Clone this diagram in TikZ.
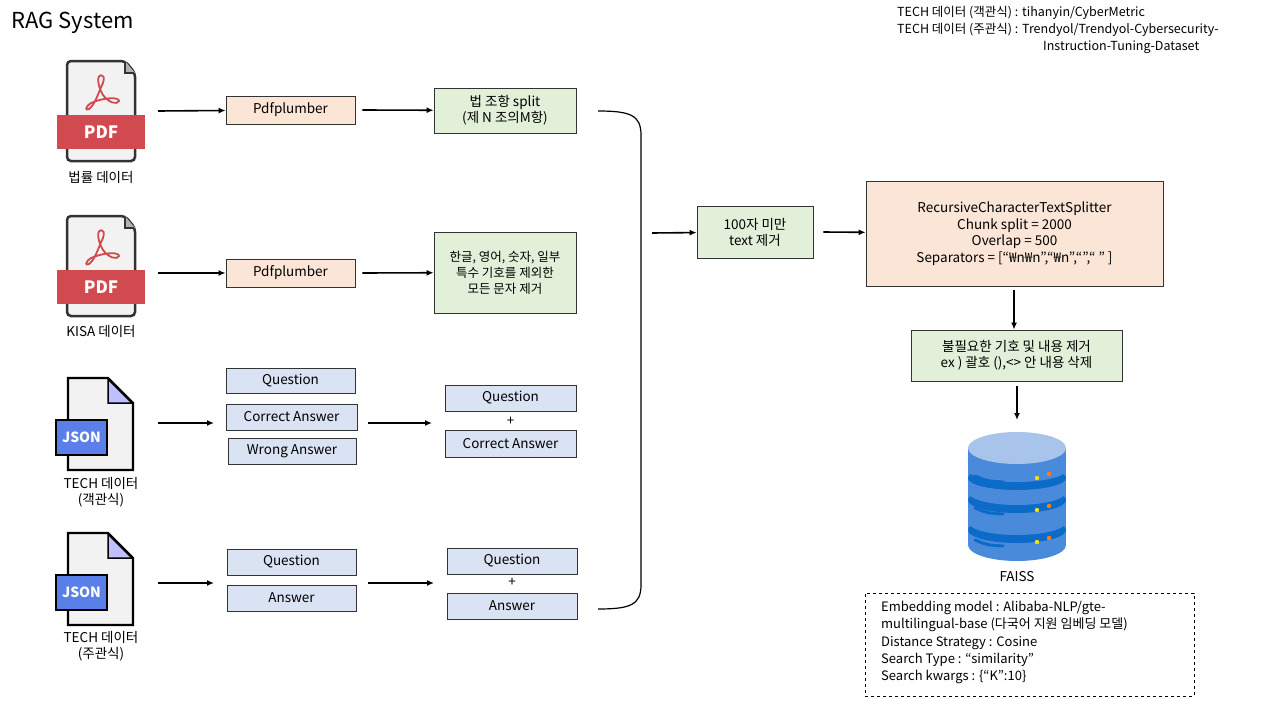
\documentclass[tikz,border=0pt]{standalone}
\usepackage{fontspec}
\setmainfont{Noto Sans CJK KR}
\usetikzlibrary{arrows.meta}
\definecolor{peach}{HTML}{FBE5D6}
\definecolor{lgreen}{HTML}{E2F0D9}
\definecolor{lblue}{HTML}{DAE3F3}
\definecolor{pdfred}{HTML}{D04A50}
\definecolor{jsblue}{HTML}{5B7FE8}
\definecolor{dbmid}{HTML}{4A8ADB}
\definecolor{dbdark}{HTML}{0C6BC9}
\definecolor{dbtop}{HTML}{A9C4EA}
\tikzset{
 bx/.style={draw=black!80, line width=0.8pt, align=center, inner sep=0pt, font=\fontsize{13.5}{16}\selectfont},
 pbox/.style={bx, fill=peach},
 gbox/.style={bx, fill=lgreen},
 bbox/.style={bx, fill=lblue},
 arr/.style={line width=1.6pt, -{Latex[length=7pt,width=6pt]}},
 lbl/.style={font=\fontsize{13.5}{16}\selectfont, align=center},
}
\newcommand{\pdficon}[2]{% x top-left, y top
 \begin{scope}[shift={(#1,#2)}]
  \draw[line width=2.5pt, draw=black!80, fill=black!5, rounded corners=4pt] (10,0) -- (68,0) -- (78,12) -- (78,100) -- (10,100) -- cycle;
  \fill[black!30] (68,0) -- (68,12) -- (78,12) -- cycle;
  \draw[line width=1.5pt, draw=black!80] (68,1) -- (68,12) -- (77,12);
  \fill[pdfred] (0,54) rectangle (88,88);
  \node[text=white, font=\bfseries\fontsize{17}{19}\selectfont] at (44,71) {PDF};
  \draw[pdfred, line width=1.8pt] (44,14) .. controls (40,14) and (40,24) .. (46,34) .. controls (52,42) and (60,44) .. (62,40) .. controls (62,36) and (48,36) .. (34,42) .. controls (28,46) and (28,50) .. (32,48) .. controls (38,44) and (42,30) .. (46,22) .. controls (48,16) and (46,14) .. (44,14);
 \end{scope}}
\newcommand{\jsonicon}[2]{%
 \begin{scope}[shift={(#1,#2)}]
  \draw[line width=2.2pt, fill=black!5] (12,0) -- (52,0) -- (77,25) -- (77,92) -- (12,92) -- cycle;
  \draw[line width=1.5pt, fill=blue!25] (52,1) -- (52,25) -- (76,25) -- cycle;
  \draw[line width=2pt, fill=jsblue] (0,42) rectangle (51,77);
  \node[text=white, font=\bfseries\fontsize{14}{16}\selectfont] at (25.5,59.5) {JSON};
 \end{scope}}
\begin{document}
\begin{tikzpicture}[x=1pt,y=-1pt]
\useasboundingbox[fill=white] (0,0) rectangle (1280,720);
\node[anchor=west, font=\fontsize{22}{26}\selectfont] (title) at (8,23) {RAG System};
\node[anchor=north west, font=\fontsize{12.5}{17}\selectfont, align=left, inner sep=0pt] (src) at (897,6) {TECH 데이터 (객관식) : tihanyin/CyberMetric\\TECH 데이터 (주관식) : Trendyol/Trendyol-Cybersecurity-\\\hspace*{146pt}Instruction-Tuning-Dataset};
% icons
\pdficon{57}{61}
\node[lbl] (l1) at (101,177) {법률 데이터};
\pdficon{57}{216}
\node[lbl] (l2) at (101,331) {KISA 데이터};
\jsonicon{56}{378}
\node[lbl] (l3) at (101,492) {TECH 데이터\\(객관식)};
\jsonicon{56}{533}
\node[lbl] (l4) at (101,646) {TECH 데이터\\(주관식)};
\coordinate (s1) at (158,111); \coordinate (s2) at (158,273);
\coordinate (s3) at (158,423); \coordinate (s4) at (158,583);
% row1
\node[pbox, minimum width=129pt, minimum height=28pt] (p1) at (290.5,110) {Pdfplumber};
\node[gbox, minimum width=142pt, minimum height=45pt] (g1) at (505,110.5) {법 조항 split\\(제 N 조의M항)};
\draw[arr] (s1) -- (p1);
\draw[arr] (p1.east)++(7,0) -- (g1);
% row2
\node[pbox, minimum width=129pt, minimum height=28pt] (p2) at (290.5,273) {Pdfplumber};
\node[gbox, minimum width=142pt, minimum height=81pt, font=\fontsize{12.5}{16}\selectfont] (g2) at (505,272.5) {한글, 영어, 숫자, 일부\\특수 기호를 제외한\\모든 문자 제거};
\draw[arr] (s2) -- (p2);
\draw[arr] (p2.east)++(7,0) -- (g2);
% row3
\node[bbox, minimum width=129pt, minimum height=25pt] (q3) at (290.5,380.5) {Question};
\node[bbox, minimum width=131pt, minimum height=26pt] (c3) at (291.5,417) {Correct Answer};
\node[bbox, minimum width=128pt, minimum height=26pt] (w3) at (292,451) {Wrong Answer};
\node[bbox, minimum width=131pt, minimum height=26pt] (q3b) at (510.5,398) {Question};
\node[lbl] (plus3) at (510.5,421) {+};
\node[bbox, minimum width=131pt, minimum height=27pt] (c3b) at (510.5,443.5) {Correct Answer};
\draw[arr] (s3) -- (214,423);
\draw[arr] (368,423) -- (432,423);
% row4
\node[bbox, minimum width=129pt, minimum height=26pt] (q4) at (291.5,562) {Question};
\node[bbox, minimum width=129pt, minimum height=26pt] (a4) at (291.5,598) {Answer};
\node[bbox, minimum width=130pt, minimum height=26pt] (q4b) at (512,561) {Question};
\node[lbl] (plus4) at (512,582) {+};
\node[bbox, minimum width=130pt, minimum height=26pt] (a4b) at (512,606) {Answer};
\draw[arr] (s4) -- (214,583);
\draw[arr] (368,583) -- (434,583);
% brace
\coordinate (b1) at (598,111); \coordinate (b2) at (598,609);
\draw[line width=1.2pt] (b1) .. controls (630,111) and (641,115) .. (641,135) -- (641,585) .. controls (641,605) and (630,609) .. (b2);
\coordinate (bt) at (652,233);
\node[gbox, minimum width=116pt, minimum height=52pt] (t100) at (755,232) {100자 미만\\text 제거};
\draw[arr] (bt) -- (t100);
\node[pbox, minimum width=297pt, minimum height=105pt, font=\fontsize{13.5}{16.5}\selectfont] (rc) at (1014.5,233.5) {RecursiveCharacterTextSplitter\\Chunk split = 2000\\Overlap = 500\\Separators = [“₩n₩n”,“₩n”,“”,“ ” ]};
\draw[arr] (t100.east)++(10,0) -- (rc);
\node[gbox, minimum width=211pt, minimum height=51pt] (cl) at (1016.5,355.5) {불필요한 기호 및 내용 제거\\ex ) 괄호 (),<> 안 내용 삭제};
\coordinate (c1) at (1014,290);
\draw[arr] (c1) -- (c1 |- cl.north);
% DB
\begin{scope}[shift={(1017,0)}]
 \fill[dbmid] (-49,448) rectangle (49,545);
 \fill[dbmid] (0,545) ellipse (49 and 16);
 \fill[dbdark] (0,530) ellipse (49 and 13);
 \fill[dbmid] (0,522) ellipse (49 and 13);
 \fill[dbmid] (-49,504) rectangle (49,522);
 \fill[dbdark] (0,500) ellipse (49 and 13);
 \fill[dbmid] (0,492) ellipse (49 and 13);
 \fill[dbmid] (-49,470) rectangle (49,492);
 \fill[dbdark] (0,478) ellipse (49 and 12);
 \fill[dbmid] (0,470) ellipse (49 and 12);
 \fill[dbmid] (-49,448) rectangle (49,470);
 \fill[dbtop] (0,448) ellipse (49 and 16);
 \foreach \yy in {482,514,546} {
  \draw[dbdark, line width=3pt, line cap=round] (-42,\yy-6) .. controls (-30,\yy-1) .. (-14,\yy);
  \fill[yellow!80!orange] (20,\yy-4) circle (2.2);
  \fill[orange] (32,\yy-8) circle (2.2);
 }
\end{scope}
\node[lbl] (faiss) at (1017,577) {FAISS};
\draw[arr] (1017,386) -- (1017,420);
\node[draw, dashed, line width=0.8pt, minimum width=329pt, minimum height=103pt] (emb) at (1029.5,644.5) {};
\node[anchor=north west, align=left, font=\fontsize{13}{17.3}\selectfont, inner sep=0pt] (embt) at (881,601) {Embedding model : Alibaba-NLP/gte-\\multilingual-base (다국어 지원 임베딩 모델)\\Distance Strategy : Cosine\\Search Type : “similarity”\\Search kwargs : \{“K”:10\}};
\end{tikzpicture}
\end{document}
